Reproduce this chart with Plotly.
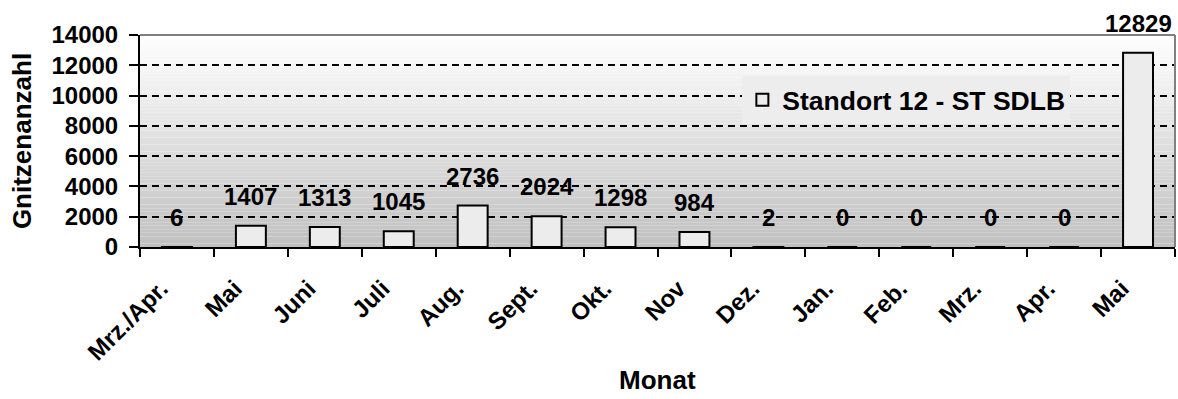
import plotly.graph_objects as go

categories = ["Mrz./Apr.", "Mai", "Juni", "Juli", "Aug.", "Sept.", "Okt.", "Nov",
              "Dez.", "Jan.", "Feb.", "Mrz.", "Apr.", "Mai"]
counts = [6, 1407, 1313, 1045, 2736, 2024, 1298, 984, 2, 0, 0, 0, 0, 12829]
series_name = "Standort 12 - ST SDLB"
y_ticks = [0, 2000, 4000, 6000, 8000, 10000, 12000, 14000]
y_tick_labels = ["0", "2000", "4000", "6000", "8000", "10000", "12000", "14000"]
x_title = "Monat"
y_title = "Gnitzenanzahl"

FONT = "Liberation Sans, Arial, sans-serif"
positions = list(range(len(categories)))

fig = go.Figure()
fig.add_trace(go.Bar(
    x=positions, y=counts, name=series_name,
    marker=dict(color="#ececec", line=dict(color="black", width=2)),
    showlegend=True,
))

# data labels above the bars
for xi, v in zip(positions, counts):
    fig.add_annotation(x=xi, y=v, xref="x", yref="y", text=str(v),
                       showarrow=False, yanchor="bottom", yshift=14,
                       font=dict(family=FONT, size=24, color="black", weight="bold"))

# x axis title
fig.add_annotation(x=0.5, y=-0.625, xref="paper", yref="paper", text=x_title,
                   showarrow=False, xanchor="center", yanchor="middle",
                   font=dict(family=FONT, size=26, color="black", weight="bold"))

# vertical gradient background (white top -> grey bottom)
N = 60
for i in range(N):
    f = (i + 0.5) / N
    c = int(round(192 + (255 - 192) * f))
    fig.add_shape(type="rect", xref="x domain", yref="y domain",
                  x0=0, x1=1, y0=i / N, y1=(i + 1) / N,
                  fillcolor=f"rgb({c},{c},{c})", line=dict(width=0), layer="below")

# grey border top and right
fig.add_shape(type="line", xref="x domain", yref="y domain", x0=0, x1=1, y0=1, y1=1,
              line=dict(color="#808080", width=2), layer="above")
fig.add_shape(type="line", xref="x domain", yref="y domain", x0=1, x1=1, y0=0, y1=1,
              line=dict(color="#808080", width=2), layer="above")

fig.update_layout(
    width=1178, height=399,
    margin=dict(l=140, r=3, t=35, b=152),
    paper_bgcolor="white", plot_bgcolor="white",
    font=dict(family=FONT, size=24, color="black", weight="bold"),
    bargap=0.595,
    showlegend=True,
    legend=dict(x=0.582, y=0.693, xanchor="left", yanchor="middle",
                bgcolor="#ededed", borderwidth=0,
                font=dict(family=FONT, size=26.5, color="black", weight="bold")),
    xaxis=dict(
        range=[-0.5, len(categories) - 0.5],
        tickmode="array", tickvals=positions, ticktext=categories,
        tickangle=-45, ticks="", showgrid=False, zeroline=False,
        showline=True, linecolor="black", linewidth=2,
        ticklabelshift=-16, ticklabelstandoff=16,
        tickfont=dict(family=FONT, size=24, color="black", weight="bold"),
        minor=dict(tick0=-0.5, dtick=1, ticks="outside", ticklen=8,
                   tickwidth=2, tickcolor="black", showgrid=False),
    ),
    yaxis=dict(
        range=[0, 14000], tickmode="array", tickvals=y_ticks, ticktext=y_tick_labels,
        ticks="outside", ticklen=9, tickwidth=2, tickcolor="black",
        showline=True, linecolor="black", linewidth=2,
        showgrid=True, gridcolor="black", gridwidth=2, griddash="7px,5px",
        zeroline=False, ticklabelstandoff=6,
        tickfont=dict(family=FONT, size=24, color="black", weight="bold"),
        title=dict(text=y_title, standoff=12,
                   font=dict(family=FONT, size=26, color="black", weight="bold")),
    ),
)

fig.write_html("out.html")
